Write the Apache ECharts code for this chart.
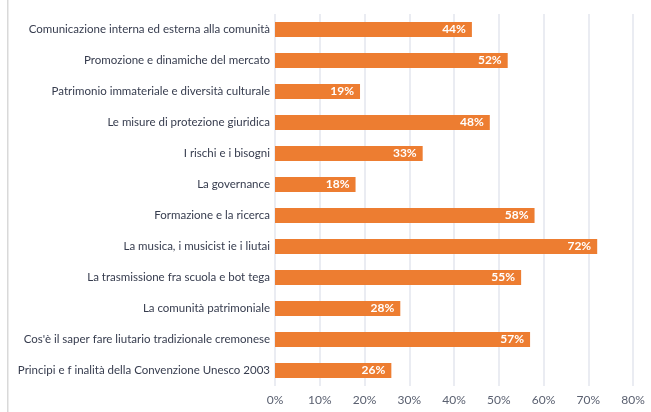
<!DOCTYPE html>
<html lang="it">
<head>
    <meta charset="UTF-8">
    <title>Temi</title>
    <script src="https://cdn.jsdelivr.net/npm/echarts@6/dist/echarts.min.js"></script>
    <style>
        html, body {
            margin: 0;
            padding: 0;
            background: #fff;
        }
    </style>
</head>
<body>
<div id="chart" style="width: 651px;height: 412px"></div>
<script>
    // categorie dall'alto in basso
    var categories = [
        'Comunicazione interna ed esterna alla comunità',
        'Promozione e dinamiche del mercato',
        'Patrimonio immateriale e diversità culturale',
        'Le misure di protezione giuridica',
        'I rischi e i bisogni',
        'La governance',
        'Formazione e la ricerca',
        'La musica, i musicist ie i liutai',
        'La trasmissione fra scuola e bot tega',
        'La comunità patrimoniale',
        "Cos'è il saper fare liutario tradizionale cremonese",
        'Principi e f inalità della Convenzione Unesco 2003'
    ]
    var values = [44, 52, 19, 48, 33, 18, 58, 72, 55, 28, 57, 26]
    var xTicks = [0, 10, 20, 30, 40, 50, 60, 70, 80]

    var myChart = echarts.init(document.getElementById('chart'))
    myChart.setOption({
        animation: false,
        textStyle: {fontFamily: 'Lato'},
        grid: {left: 275, right: 18, top: 14, bottom: 26},
        graphic: [{
            type: 'rect',
            shape: {x: 7, y: 0, width: 1.5, height: 412},
            style: {fill: '#d9d9d9'}
        }],
        xAxis: {
            type: 'value',
            min: xTicks[0],
            max: xTicks[xTicks.length - 1],
            interval: 10,
            axisLine: {show: false},
            axisTick: {show: false},
            splitLine: {lineStyle: {color: '#e3e6ee', width: 1.5}},
            axisLabel: {
                color: '#5a6070',
                fontSize: 12,
                margin: 8,
                formatter: '{value}%'
            }
        },
        yAxis: {
            type: 'category',
            inverse: true,
            data: categories,
            axisLine: {show: false},
            axisTick: {show: false},
            axisLabel: {color: '#363c4e', fontSize: 11.5, margin: 5}
        },
        series: [{
            type: 'bar',
            data: values,
            barWidth: 15,
            itemStyle: {color: '#ed7d31'},
            label: {
                show: true,
                position: 'insideRight',
                color: '#fff',
                fontWeight: 'bold',
                fontSize: 12,
                distance: 6,
                formatter: '{c}%'
            }
        }]
    })
</script>
</body>
</html>
